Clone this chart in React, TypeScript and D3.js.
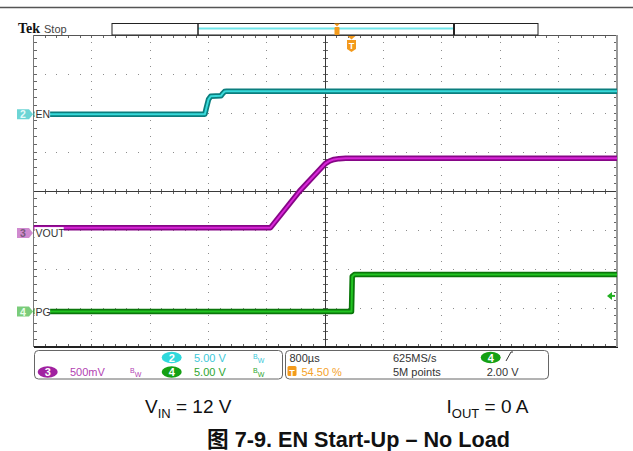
import * as d3 from "d3";

// horizontal: 800 µs/div, trigger at 54.50 % of record
const timePerDiv = 0.8; // ms
const triggerPct = 0.545;

// EN (ch2, 5.00 V/div)
const enTime = [-4.36, -2.01, -1.99, -1.96, -1.93, -1.79, -1.77, -1.74, -1.71, 3.64];
const enVolt = [0, 0, 0.8, 1.9, 2.3, 2.35, 2.6, 2.9, 2.95, 2.95];

// VOUT (ch3, 500 mV/div)
const voutTime = [-4.36, -1.11, -0.71, -0.36, -0.3, -0.24, -0.17, -0.08, 3.64];
const voutVolt = [0.07, 0.07, 0.54, 0.89, 0.925, 0.945, 0.955, 0.96, 0.96];

// PG (ch4, 5.00 V/div)
const pgTime = [-4.36, 0, 0.01, 0.04, 3.64];
const pgVolt = [0, 0, 4.5, 4.74, 4.74];

const triggerLevel = 2.0; // V on ch4

type Pt = { t: number; v: number };
const zip = (ts: number[], vs: number[]): Pt[] => ts.map((t, i) => ({ t, v: vs[i] }));

const channels = [
  { id: "2", name: "EN", scale: 5, offset: 1.97, data: zip(enTime, enVolt), edge: "#0b7e7e", core: "#38dada", mark: "#6dd5d5", markText: "#e6fafa" },
  { id: "3", name: "VOUT", scale: 0.5, offset: -1.08, data: zip(voutTime, voutVolt), edge: "#860686", core: "#d826d8", mark: "#d08ad0", markText: "#7a5a7a" },
  { id: "4", name: "PG", scale: 5, offset: -3.09, data: zip(pgTime, pgVolt), edge: "#0a760a", core: "#22c422", mark: "#7acc7a", markText: "#eaffea" },
];

const W = 633;
const H = 451;
const gx0 = 33.5, gx1 = 617, gy0 = 35, gy1 = 347;

const xDiv = d3.scaleLinear().domain([-5, 5]).range([gx0, gx1]);
const yDiv = d3.scaleLinear().domain([-4, 4]).range([gy1, gy0]);
const xTime = d3
  .scaleLinear()
  .domain([-triggerPct * 10 * timePerDiv, (1 - triggerPct) * 10 * timePerDiv])
  .range([gx0, gx1]);

const scopeFont = "'Liberation Sans', Arial, sans-serif";

function Grid() {
  const minorX = d3.range(0, 51).map((k) => -5 + k * 0.2);
  const minorY = d3.range(0, 41).map((k) => -4 + k * 0.2);
  const majorX = d3.range(-4, 5).filter((d) => d !== 0);
  const majorY = d3.range(-3, 4).filter((d) => d !== 0);
  const dots: JSX.Element[] = [];
  majorY.forEach((my) =>
    minorX.forEach((mx, i) =>
      dots.push(<rect key={`h${my}-${i}`} x={xDiv(mx) - 0.5} y={yDiv(my) - 0.5} width={1} height={1} fill="#8c8c8c" />)
    )
  );
  majorX.forEach((mx) =>
    minorY.forEach((my, i) =>
      dots.push(<rect key={`v${mx}-${i}`} x={xDiv(mx) - 0.5} y={yDiv(my) - 0.5} width={1} height={1} fill="#8c8c8c" />)
    )
  );
  const ticks: JSX.Element[] = [];
  minorX.forEach((mx, i) => {
    const x = xDiv(mx);
    ticks.push(<line key={`tt${i}`} x1={x} x2={x} y1={gy0} y2={gy0 + 3} stroke="#666" />);
    ticks.push(<line key={`tb${i}`} x1={x} x2={x} y1={gy1} y2={gy1 - 3} stroke="#666" />);
    ticks.push(<line key={`tc${i}`} x1={x} x2={x} y1={yDiv(0) - 2.5} y2={yDiv(0) + 2.5} stroke="#666" />);
  });
  minorY.forEach((my, i) => {
    const y = yDiv(my);
    ticks.push(<line key={`tl${i}`} x1={gx0} x2={gx0 + 3} y1={y} y2={y} stroke="#666" />);
    ticks.push(<line key={`tr${i}`} x1={gx1} x2={gx1 - 3} y1={y} y2={y} stroke="#666" />);
    ticks.push(<line key={`tm${i}`} x1={xDiv(0) - 2.5} x2={xDiv(0) + 2.5} y1={y} y2={y} stroke="#666" />);
  });
  return (
    <g shapeRendering="crispEdges">
      {dots}
      {ticks}
      <line x1={gx0} x2={gx1} y1={yDiv(0)} y2={yDiv(0)} stroke="#3a3a3a" />
      <line x1={xDiv(0)} x2={xDiv(0)} y1={gy0} y2={gy1} stroke="#3a3a3a" />
      <line x1={gx0} x2={gx1} y1={gy0} y2={gy0} stroke="#555" />
      <line x1={gx0} x2={gx1 + 1} y1={gy1} y2={gy1} stroke="#222" strokeWidth={2} />
      <line x1={gx0} x2={gx0} y1={gy0} y2={gy1} stroke="#777" strokeWidth={1.5} />
      <line x1={gx1} x2={gx1} y1={gy0} y2={gy1} stroke="#9a9a9a" strokeWidth={2} />
    </g>
  );
}

function Traces() {
  return (
    <g clipPath="url(#plotClip)">
      {channels.map((ch) => {
        const line = d3
          .line<Pt>()
          .x((d) => xTime(d.t))
          .y((d) => yDiv(ch.offset + d.v / ch.scale));
        const d = line(ch.data) || "";
        return (
          <g key={ch.id}>
            <path d={d} fill="none" stroke={ch.edge} strokeWidth={5.5} strokeLinejoin="round" />
            <path d={d} fill="none" stroke={ch.core} strokeWidth={2} strokeLinejoin="round" />
          </g>
        );
      })}
    </g>
  );
}

function ChannelLabels() {
  const ch4 = channels[2];
  const yTrig = yDiv(ch4.offset + triggerLevel / ch4.scale);
  return (
    <g fontFamily={scopeFont}>
      {channels.map((ch) => {
        const y = yDiv(ch.offset);
        const wLabel = ch.name.length * 6.8 + 2;
        return (
          <g key={ch.id}>
            <rect x={gx0 + 1} y={y - 6} width={wLabel} height={11} fill="#fff" />
            <text x={gx0 + 2} y={y + 4} fontSize={10.5} fill="#333">{ch.name}</text>
            <path d={`M17,${y - 5} H29 L33,${y} L29,${y + 5} H17 Z`} fill={ch.mark} />
            <text x={23} y={y + 4} fontSize={10.5} textAnchor="middle" fill={ch.markText} fontWeight="bold">{ch.id}</text>
          </g>
        );
      })}
      {/* trigger level arrow on ch4 */}
      <path d={`M${gx1 - 10},${yTrig} l5,-4 v8 Z`} fill="#22b022" />
      <line x1={gx1 - 6} x2={gx1 - 2} y1={yTrig} y2={yTrig} stroke="#22b022" strokeWidth={2} />
    </g>
  );
}

function Header() {
  const xT = xTime(0);
  return (
    <g>
      <line x1={0} x2={W} y1={7.5} y2={7.5} stroke="#555" strokeWidth={1.5} />
      <text x={18} y={33} fontFamily="'Liberation Serif', 'Times New Roman', serif" fontWeight="bold" fontSize={14} fill="#111">Tek</text>
      <text x={44} y={33} fontFamily={scopeFont} fontSize={11} fill="#444">Stop</text>
      <rect x={112} y={23.5} width={426} height={11.5} fill="#fff" stroke="#222" />
      <line x1={198} x2={454} y1={28.5} y2={28.5} stroke="#6fe6ea" strokeWidth={2} />
      <line x1={198} x2={198} y1={23.5} y2={35} stroke="#222" strokeWidth={1.5} />
      <line x1={454} x2={454} y1={23.5} y2={35} stroke="#222" strokeWidth={2} />
      {/* trigger position on record bar */}
      <path d="M334,23.5 h6 l-3,3 Z" fill="#f39a1c" />
      <rect x={334.5} y={27} width={5} height={8} rx={1} fill="#f39a1c" />
      {/* trigger marker */}
      <path d={`M${xT - 4},36 h8 l-4,3.5 Z`} fill="#f39a1c" />
      <path d={`M${xT - 4.5},40 h9 v9 l-4.5,3 l-4.5,-3 Z`} fill="#f39a1c" />
      <text x={xT} y={48.5} fontFamily={scopeFont} fontSize={9} fontWeight="bold" textAnchor="middle" fill="#fff">T</text>
    </g>
  );
}

function Bw({ x, y, color }: { x: number; y: number; color: string }) {
  return (
    <text x={x} y={y - 3} fontFamily={scopeFont} fontSize={7} fill={color}>
      B<tspan dy={4}>W</tspan>
    </text>
  );
}

function Badge({ x, y, fill, label }: { x: number; y: number; fill: string; label: string }) {
  return (
    <g>
      <ellipse cx={x} cy={y} rx={10} ry={5.8} fill={fill} />
      <text x={x} y={y + 4} textAnchor="middle" fontFamily={scopeFont} fontSize={11} fontWeight="bold" fill="#fff">{label}</text>
    </g>
  );
}

function InfoPanel() {
  const r1 = 361.5;
  const r2 = 376;
  return (
    <g fontFamily={scopeFont} fontSize={11}>
      <rect x={34.5} y={350.5} width={248} height={28.5} rx={4} fill="#fff" stroke="#666" />
      <rect x={285.5} y={350.5} width={263} height={28.5} rx={4} fill="#fff" stroke="#666" />

      <Badge x={171.7} y={r1 - 4} fill="#2fd9dc" label="2" />
      <text x={194} y={r1} fill="#3cc8d8">5.00 V</text>
      <Bw x={253} y={r1} color="#3cc8d8" />

      <Badge x={47.7} y={r2 - 4} fill="#a021a0" label="3" />
      <text x={70} y={r2} fill="#b23fb2">500mV</text>
      <Bw x={130} y={r2} color="#b23fb2" />
      <Badge x={171.7} y={r2 - 4} fill="#14a014" label="4" />
      <text x={194} y={r2} fill="#2ea52e">5.00 V</text>
      <Bw x={253} y={r2} color="#2ea52e" />

      <text x={289.5} y={r1} fill="#333">800µs</text>
      <text x={393} y={r1} fill="#333">625MS/s</text>
      <Badge x={490.7} y={r1 - 4} fill="#14a014" label="4" />
      <path d="M506,361 l5,-9 h2" fill="none" stroke="#333" strokeWidth={1} />

      <rect x={287.5} y={366} width={9} height={10} rx={1.5} fill="#f39a1c" />
      <text x={292} y={r2 - 0.5} textAnchor="middle" fontSize={9} fontWeight="bold" fill="#fff">T</text>
      <text x={301.5} y={r2} fill="#f4a22a">54.50 %</text>
      <text x={393} y={r2} fill="#333">5M points</text>
      <text x={486.7} y={r2} fill="#333">2.00 V</text>
    </g>
  );
}

function Captions() {
  const f = "'Liberation Sans', Arial, 'Noto Sans CJK SC', sans-serif";
  return (
    <g fontFamily={f} fill="#111">
      <text x={145} y={413} fontSize={19}>
        V<tspan fontSize={13} dy={5}>IN</tspan>
        <tspan dy={-5}> = 12 V</tspan>
      </text>
      <text x={446.5} y={413} fontSize={19}>
        I<tspan fontSize={13} dy={5}>OUT</tspan>
        <tspan dy={-5}> = 0 A</tspan>
      </text>
      <text x={207} y={447} fontSize={22} fontWeight="bold" textLength={303} lengthAdjust="spacingAndGlyphs">
        图 7-9. EN Start-Up – No Load
      </text>
    </g>
  );
}

export default function App() {
  return (
    <svg
      width={W}
      height={H}
      viewBox={`0 0 ${W} ${H}`}
      style={{ position: "absolute", left: 0, top: 0, background: "#fff", display: "block" }}
    >
      <defs>
        <clipPath id="plotClip">
          <rect x={gx0} y={gy0} width={gx1 - gx0} height={gy1 - gy0} />
        </clipPath>
      </defs>
      <rect width={W} height={H} fill="#fff" />
      <Grid />
      <Traces />
      <ChannelLabels />
      <Header />
      <InfoPanel />
      <Captions />
    </svg>
  );
}
